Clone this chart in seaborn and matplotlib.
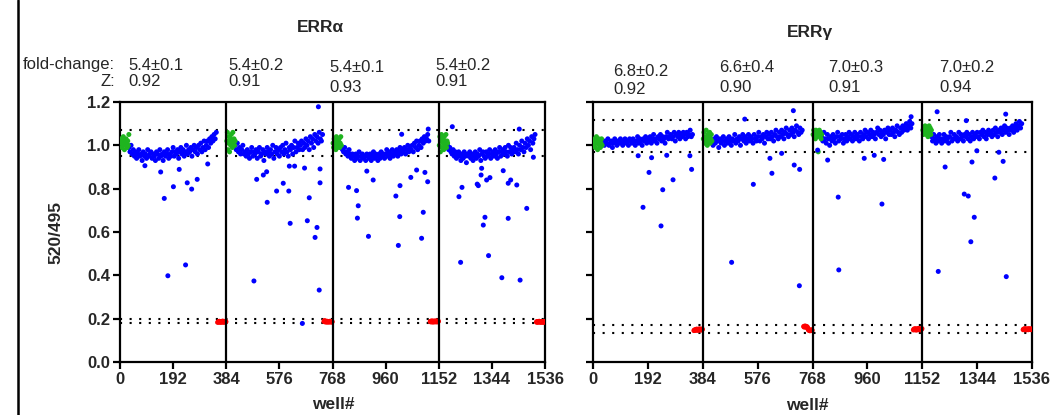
import numpy as np
import pandas as pd
import matplotlib
matplotlib.use("Agg")
import matplotlib.pyplot as plt
import seaborn as sns

# ---- data ----
plate_size = 384
x_ticks = [0, 192, 384, 576, 768, 960, 1152, 1344, 1536]
y_ticks = [0.0, 0.2, 0.4, 0.6, 0.8, 1.0, 1.2]

titles = ["ERR\u03b1", "ERR\u03b3"]
fold_change = [["5.4\u00b10.1", "5.4\u00b10.2", "5.4\u00b10.1", "5.4\u00b10.2"],
               ["6.8\u00b10.2", "6.6\u00b10.4", "7.0\u00b10.3", "7.0\u00b10.2"]]
z_factor = [["0.92", "0.91", "0.93", "0.91"],
            ["0.92", "0.90", "0.91", "0.94"]]

# control limits (dotted lines)
hi_limits = [[1.071, 0.952], [1.117, 0.969]]
lo_limits = [[0.197, 0.179], [0.171, 0.135]]

# wells inside each plate
sample_wells = np.arange(32, 352, 4)
pos_wells = np.arange(2, 34, 2)
neg_wells = np.arange(353, 384, 2)

# ERRalpha: sample band per plate
alpha_band = [
    [0.99, 0.97, 1.00, 0.96, 0.98, 0.95, 0.97, 0.94, 0.96, 0.98,
     0.95, 0.96, 0.93, 0.97, 0.95, 0.96, 0.94, 0.98, 0.95, 0.96,
     0.97, 0.94, 0.96, 0.95, 0.93, 0.97, 0.96, 0.94, 0.98, 0.95,
     0.96, 0.93, 0.97, 0.95, 0.96, 0.98, 0.94, 0.96, 0.95, 0.97,
     0.99, 0.95, 0.97, 0.96, 0.98, 0.94, 0.97, 0.99, 0.96, 0.98,
     0.95, 0.97, 1.00, 0.96, 0.98, 0.97, 0.99, 0.95, 0.98, 1.00,
     0.97, 0.99, 0.96, 1.00, 0.98, 1.01, 0.97, 0.99, 1.02, 0.98,
     1.00, 1.02, 0.99, 1.03, 1.01, 1.04, 1.02, 1.05, 1.03, 1.06],
    [1.00, 0.98, 1.01, 0.97, 0.99, 0.96, 0.98, 1.00, 0.96, 0.97,
     0.95, 0.98, 0.96, 0.94, 0.97, 0.99, 0.95, 0.97, 0.96, 0.98,
     0.94, 0.97, 0.99, 0.95, 0.96, 0.98, 0.93, 0.97, 0.96, 0.99,
     0.97, 0.95, 0.98, 0.96, 1.00, 0.94, 0.97, 0.99, 0.96, 0.98,
     0.95, 0.99, 0.97, 1.00, 0.96, 0.98, 1.01, 0.97, 0.95, 0.99,
     0.98, 1.00, 0.96, 0.99, 1.02, 0.97, 0.99, 1.01, 0.98, 1.00,
     1.02, 0.98, 1.01, 0.99, 1.03, 1.00, 1.02, 0.98, 1.04, 1.01,
     1.03, 0.99, 1.05, 1.02, 1.04, 1.01, 1.06, 1.03, 1.02, 1.05],
    [0.99, 0.98, 0.97, 0.99, 0.96, 0.97, 0.95, 0.98, 0.96, 0.94,
     0.96, 0.95, 0.93, 0.96, 0.94, 0.95, 0.97, 0.93, 0.95, 0.96,
     0.94, 0.95, 0.93, 0.96, 0.95, 0.94, 0.96, 0.93, 0.95, 0.97,
     0.94, 0.96, 0.95, 0.93, 0.96, 0.94, 0.97, 0.95, 0.96, 0.94,
     0.96, 0.98, 0.95, 0.97, 0.94, 0.96, 0.98, 0.95, 0.97, 0.96,
     0.98, 0.95, 0.97, 0.99, 0.96, 0.98, 0.97, 0.99, 0.96, 0.98,
     1.00, 0.97, 0.99, 0.98, 1.00, 0.97, 1.01, 0.99, 1.02, 0.98,
     1.00, 1.02, 0.99, 1.03, 1.01, 1.04, 1.02, 1.03, 1.05, 1.02],
    [1.00, 0.98, 0.99, 0.97, 0.96, 0.98, 0.95, 0.97, 0.94, 0.96,
     0.97, 0.95, 0.93, 0.96, 0.94, 0.97, 0.95, 0.92, 0.96, 0.95,
     0.97, 0.94, 0.96, 0.93, 0.95, 0.97, 0.94, 0.96, 0.95, 0.98,
     0.93, 0.96, 0.97, 0.95, 0.94, 0.97, 0.95, 0.96, 0.98, 0.94,
     0.96, 0.97, 0.95, 0.98, 0.96, 0.94, 0.97, 0.99, 0.95, 0.97,
     0.98, 0.96, 0.99, 0.97, 0.95, 1.00, 0.97, 0.99, 0.96, 0.98,
     0.99, 0.97, 1.01, 0.98, 0.96, 1.00, 0.98, 1.02, 0.99, 0.97,
     1.01, 0.99, 1.03, 1.00, 1.02, 0.98, 1.04, 1.01, 1.03, 1.05],
]
alpha_pos = [
    [1.01, 1.03, 0.99, 1.02, 1.00, 1.04, 1.01, 0.98, 1.02, 1.00, 1.03, 1.01, 0.99, 1.02, 1.00, 1.05],
    [1.02, 1.06, 0.98, 1.01, 1.04, 0.97, 1.03, 1.00, 1.05, 1.02, 0.99, 1.06, 1.01, 1.03, 1.00, 1.02],
    [1.01, 0.99, 1.03, 1.00, 1.02, 0.98, 1.04, 1.01, 0.99, 1.02, 1.00, 1.03, 0.99, 1.01, 1.04, 1.00],
    [1.00, 1.04, 0.97, 1.02, 1.05, 0.99, 1.03, 1.01, 0.98, 1.04, 1.02, 1.00, 1.05, 0.99, 1.02, 1.01],
]
alpha_neg = [
    [0.183, 0.186, 0.184, 0.188, 0.185, 0.183, 0.187, 0.185, 0.184, 0.189, 0.186, 0.183, 0.187, 0.185, 0.188, 0.186],
    [0.187, 0.191, 0.185, 0.189, 0.186, 0.184, 0.188, 0.185, 0.187, 0.184, 0.186, 0.188, 0.185, 0.187, 0.184, 0.186],
    [0.186, 0.188, 0.185, 0.190, 0.187, 0.184, 0.189, 0.186, 0.188, 0.185, 0.190, 0.187, 0.185, 0.189, 0.186, 0.188],
    [0.184, 0.187, 0.183, 0.186, 0.185, 0.188, 0.184, 0.186, 0.183, 0.187, 0.185, 0.184, 0.186, 0.183, 0.185, 0.187],
]
alpha_out_wells = [90, 147, 160, 173, 193, 214, 237, 243, 259, 279, 317,
                   484, 494, 518, 530, 532, 566, 590, 610, 612, 615, 631, 659, 667, 677, 684, 705, 712, 717, 720, 723, 723,
                   826, 855, 858, 861, 892, 898, 915, 997, 1006, 1011, 1012, 1018, 1051, 1072, 1090, 1096, 1102, 1112, 1114,
                   1201, 1225, 1231, 1236, 1291, 1295, 1305, 1307, 1313, 1319, 1325, 1332, 1337, 1380, 1385, 1403, 1403,
                   1412, 1434, 1443, 1446, 1470, 1494]
alpha_out_vals = [0.906, 0.877, 0.755, 0.398, 0.809, 0.889, 0.448, 0.827, 0.798, 0.843, 0.914,
                  0.374, 0.843, 0.863, 0.878, 0.737, 0.789, 0.825, 0.789, 0.904, 0.640, 0.904, 0.178, 0.895, 0.652, 0.758, 0.575, 0.621, 1.178, 0.332, 0.827, 0.891,
                  0.806, 0.791, 0.664, 0.721, 0.881, 0.580, 0.840, 0.766, 0.538, 0.671, 0.814, 1.051, 0.852, 0.886, 0.571, 0.691, 0.875, 0.832, 1.075,
                  1.086, 0.763, 0.460, 0.806, 0.821, 0.814, 0.863, 0.894, 0.632, 0.668, 0.840, 0.491, 0.851, 0.389, 0.883, 0.825, 0.663,
                  0.840, 0.817, 1.075, 0.378, 0.709, 0.945]

# ERRgamma
gamma_band = [
    [1.01, 1.02, 1.00, 1.02, 1.01, 1.03, 1.00, 1.01, 1.02, 0.99,
     1.01, 1.03, 1.02, 1.00, 1.02, 1.01, 1.03, 1.01, 1.00, 1.02,
     1.03, 1.01, 1.02, 1.00, 1.03, 1.02, 1.01, 1.03, 1.02, 1.00,
     1.02, 1.04, 1.01, 1.03, 1.02, 1.00, 1.03, 1.02, 1.04, 1.01,
     1.03, 1.02, 1.04, 1.01, 1.03, 1.05, 1.02, 1.03, 1.01, 1.04,
     1.03, 1.05, 1.02, 1.04, 1.03, 1.01, 1.04, 1.06, 1.03, 1.04,
     1.05, 1.03, 1.04, 1.06, 1.02, 1.05, 1.04, 1.06, 1.03, 1.05,
     1.04, 1.06, 1.05, 1.03, 1.06, 1.04, 1.05, 1.07, 1.04, 1.05],
    [1.02, 1.00, 1.03, 1.01, 1.04, 1.02, 0.99, 1.03, 1.01, 1.02,
     1.04, 1.00, 1.02, 1.03, 1.01, 1.04, 1.02, 1.00, 1.03, 1.02,
     1.05, 1.01, 1.03, 1.02, 1.04, 1.00, 1.03, 1.05, 1.02, 1.04,
     1.01, 1.03, 1.05, 1.02, 1.04, 1.03, 1.01, 1.05, 1.03, 1.02,
     1.04, 1.06, 1.02, 1.04, 1.03, 1.05, 1.01, 1.04, 1.06, 1.03,
     1.05, 1.03, 1.06, 1.04, 1.02, 1.05, 1.07, 1.04, 1.03, 1.06,
     1.04, 1.07, 1.05, 1.03, 1.06, 1.08, 1.05, 1.04, 1.07, 1.05,
     1.08, 1.06, 1.04, 1.07, 1.09, 1.06, 1.05, 1.08, 1.06, 1.07],
    [1.04, 1.02, 1.06, 1.03, 1.01, 1.05, 1.03, 1.00, 1.04, 1.02,
     1.05, 1.03, 1.01, 1.04, 1.06, 1.02, 1.04, 1.03, 1.05, 1.01,
     1.03, 1.05, 1.02, 1.04, 1.06, 1.03, 1.05, 1.02, 1.04, 1.06,
     1.03, 1.05, 1.04, 1.02, 1.06, 1.04, 1.03, 1.05, 1.07, 1.04,
     1.06, 1.03, 1.05, 1.07, 1.04, 1.06, 1.05, 1.03, 1.06, 1.08,
     1.05, 1.07, 1.04, 1.06, 1.05, 1.07, 1.03, 1.06, 1.08, 1.05,
     1.07, 1.05, 1.08, 1.06, 1.04, 1.07, 1.09, 1.06, 1.05, 1.08,
     1.06, 1.09, 1.07, 1.08, 1.10, 1.07, 1.09, 1.11, 1.08, 1.10],
    [1.04, 1.02, 1.05, 1.03, 1.01, 1.04, 1.02, 1.05, 1.03, 1.01,
     1.03, 1.05, 1.02, 1.04, 1.03, 1.01, 1.04, 1.06, 1.02, 1.03,
     1.05, 1.03, 1.04, 1.02, 1.06, 1.03, 1.05, 1.04, 1.02, 1.05,
     1.04, 1.06, 1.03, 1.05, 1.02, 1.04, 1.06, 1.03, 1.05, 1.04,
     1.06, 1.04, 1.03, 1.06, 1.05, 1.07, 1.04, 1.06, 1.03, 1.05,
     1.07, 1.05, 1.06, 1.04, 1.07, 1.05, 1.08, 1.06, 1.04, 1.07,
     1.06, 1.08, 1.05, 1.07, 1.09, 1.06, 1.08, 1.07, 1.05, 1.08,
     1.07, 1.09, 1.06, 1.08, 1.10, 1.07, 1.09, 1.11, 1.08, 1.10],
]
gamma_pos = [
    [1.02, 1.00, 1.03, 0.99, 1.01, 1.04, 1.02, 0.98, 1.01, 1.03, 1.00, 1.02, 0.99, 1.01, 1.03, 1.00],
    [1.03, 1.06, 1.01, 1.04, 1.02, 1.07, 1.03, 1.00, 1.05, 1.02, 1.04, 1.06, 1.01, 1.03, 1.05, 1.02],
    [1.05, 1.07, 1.04, 1.06, 1.03, 1.07, 1.05, 1.04, 1.06, 0.97, 1.05, 1.07, 1.04, 1.06, 1.03, 1.05],
    [1.07, 1.05, 1.08, 1.06, 1.09, 1.07, 1.05, 1.08, 1.06, 1.04, 1.07, 1.09, 1.06, 1.08, 1.05, 1.07],
]
gamma_neg = [
    [0.145, 0.148, 0.146, 0.150, 0.147, 0.152, 0.149, 0.146, 0.151, 0.148, 0.153, 0.150, 0.147, 0.152, 0.149, 0.151],
    [0.164, 0.161, 0.166, 0.162, 0.165, 0.160, 0.163, 0.158, 0.150, 0.146, 0.148, 0.144, 0.147, 0.145, 0.149, 0.146],
    [0.148, 0.152, 0.149, 0.154, 0.150, 0.147, 0.153, 0.151, 0.149, 0.155, 0.150, 0.152, 0.148, 0.153, 0.151, 0.154],
    [0.149, 0.152, 0.150, 0.154, 0.151, 0.148, 0.153, 0.150, 0.152, 0.149, 0.154, 0.151, 0.150, 0.153, 0.149, 0.152],
]
gamma_out_wells = [158, 175, 196, 205, 238, 244, 258, 280, 339, 345,
                   485, 531, 561, 619, 626, 660, 701, 704, 722, 723,
                   786, 821, 858, 860, 949, 984, 1011, 1017, 1113,
                   1204, 1208, 1232, 1299, 1306, 1313, 1322, 1326, 1334, 1343, 1406, 1420, 1435, 1444, 1446]
gamma_out_vals = [0.952, 0.714, 0.875, 0.943, 0.628, 0.795, 0.954, 0.841, 0.952, 0.889,
                  0.460, 1.121, 0.820, 0.940, 0.871, 0.963, 1.160, 0.909, 0.352, 0.889,
                  0.978, 0.932, 0.761, 0.425, 0.940, 0.954, 0.729, 0.935, 1.132,
                  1.155, 0.418, 0.900, 0.775, 1.114, 0.766, 0.555, 0.923, 0.668, 0.975, 0.849, 0.968, 0.926, 1.144, 0.394]


def build_frame(band, pos, neg, out_wells, out_vals):
    parts = []
    for p in range(4):
        off = p * plate_size
        parts.append(pd.DataFrame({"well": sample_wells + off, "ratio": band[p], "kind": "sample"}))
        parts.append(pd.DataFrame({"well": pos_wells + off, "ratio": pos[p], "kind": "pos"}))
        parts.append(pd.DataFrame({"well": neg_wells + off, "ratio": neg[p], "kind": "neg"}))
    parts.append(pd.DataFrame({"well": out_wells, "ratio": out_vals, "kind": "sample"}))
    return pd.concat(parts, ignore_index=True)


frames = [build_frame(alpha_band, alpha_pos, alpha_neg, alpha_out_wells, alpha_out_vals),
          build_frame(gamma_band, gamma_pos, gamma_neg, gamma_out_wells, gamma_out_vals)]

sns.set_style("ticks")
plt.rcParams["font.family"] = ["Liberation Sans", "DejaVu Sans"]

palette = {"sample": "#0000ff", "pos": "#1fb41f", "neg": "#ff0000"}

fig = plt.figure(figsize=(10.58, 4.15), dpi=100)
W, H = 1058, 415
ax_boxes = [(120, 545), (593, 1032)]
top_px, bot_px = 102, 362

# annotation layout (pixel positions)
fc_x = [[128, 228, 329, 435], [613, 719, 828, 939]]
fc_y = [[65, 65, 67, 65], [72, 67, 67, 67]]
z_y = [[82, 82, 87, 82], [90, 87, 88, 88]]
title_pos = [(320, 27), (810, 33)]
xlabel_pos = [(333, 404), (807, 405)]

for i, (x0, x1) in enumerate(ax_boxes):
    ax = fig.add_axes([x0 / W, 1 - bot_px / H, (x1 - x0) / W, (bot_px - top_px) / H])
    sns.scatterplot(data=frames[i], x="well", y="ratio", hue="kind", palette=palette,
                    s=13, linewidth=0, legend=False, ax=ax, zorder=3)
    for v in hi_limits[i] + lo_limits[i]:
        ax.axhline(v, color="black", lw=1.5, ls=(0, (1, 3.6)), zorder=2)
    for sep in [384, 768, 1152]:
        ax.axvline(sep, color="black", lw=1.6, zorder=4)
    ax.set_xlim(0, 1536)
    ax.set_ylim(0, 1.2)
    ax.set_xticks(x_ticks)
    ax.set_yticks(y_ticks)
    ax.set_xticklabels([str(t) for t in x_ticks], fontsize=12, fontweight="bold")
    if i == 0:
        ax.set_yticklabels([f"{t:.1f}" for t in y_ticks], fontsize=12, fontweight="bold")
    else:
        ax.set_yticklabels([])
    ax.set_xlabel("")
    ax.set_ylabel("")
    for sp in ax.spines.values():
        sp.set_linewidth(1.6)
        sp.set_color("black")
    ax.tick_params(width=1.6, length=5, color="black", pad=2)

    fig.text(title_pos[i][0] / W, 1 - title_pos[i][1] / H, titles[i], ha="center", va="center",
             fontsize=12.5, fontweight="bold")
    fig.text(xlabel_pos[i][0] / W, 1 - xlabel_pos[i][1] / H, "well#", ha="center", va="center",
             fontsize=12.5, fontweight="bold")
    for k in range(4):
        fig.text(fc_x[i][k] / W, 1 - fc_y[i][k] / H, fold_change[i][k], ha="left", va="center", fontsize=12)
        fig.text(fc_x[i][k] / W, 1 - z_y[i][k] / H, z_factor[i][k], ha="left", va="center", fontsize=12)

fig.text(115 / W, 1 - 64 / H, "fold-change:", ha="right", va="center", fontsize=12)
fig.text(115 / W, 1 - 81 / H, "Z:", ha="right", va="center", fontsize=12)
fig.text(56 / W, 1 - 232 / H, "520/495", ha="center", va="center", rotation=90,
         fontsize=12.5, fontweight="bold")

# frame line at the left edge of the figure
fig.add_artist(plt.Line2D([18 / W, 18 / W], [0, 1], color="black", lw=1.8))

fig.savefig("out.png", dpi=100)
